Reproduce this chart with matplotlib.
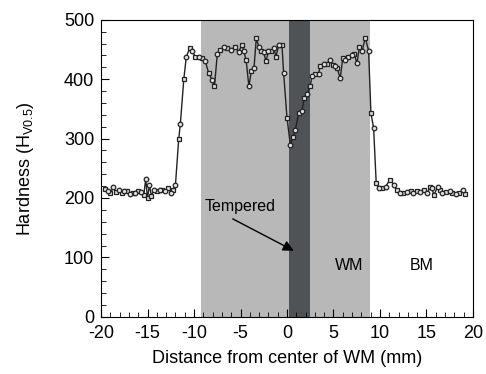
import matplotlib
matplotlib.use('Agg')
import matplotlib.pyplot as plt
from matplotlib.ticker import MultipleLocator

plt.rcParams['font.family'] = ['Liberation Sans', 'DejaVu Sans']
plt.rcParams['axes.unicode_minus'] = False
plt.rcParams['mathtext.fontset'] = 'custom'
plt.rcParams['mathtext.rm'] = 'Liberation Sans'

# hardness profile across the weld (mm, HV0.5)
distance = [-19.6, -19.3, -19.0, -18.7, -18.4, -18.1, -17.8, -17.5, -17.2, -16.9,
            -16.6, -16.3, -16.0, -15.7, -15.4, -15.2, -15.0, -14.8, -14.6, -14.3,
            -14.0, -13.7, -13.4, -13.1, -12.8, -12.5, -12.3, -12.0,
            -11.65, -11.47, -11.1, -10.83, -10.46, -10.2, -9.86, -9.5, -9.14, -8.78,
            -8.42, -8.06, -7.8, -7.5, -7.17, -6.8, -6.45, -6.0, -5.6, -5.2, -4.84,
            -4.66, -4.4, -4.1, -3.84, -3.55, -3.3, -3.04, -2.76, -2.5, -2.26, -2.0,
            -1.7, -1.43, -1.18, -0.9, -0.54, -0.36, 0.0, 0.36, 0.65, 0.9, 1.26, 1.6,
            1.86, 2.15, 2.5, 2.69, 3.05, 3.4, 3.58, 3.95, 4.3, 4.66, 4.95, 5.2, 5.38,
            5.73, 6.0, 6.27, 6.6, 6.99, 7.24, 7.53, 7.8, 8.1, 8.42, 8.78, 9.03, 9.32,
            9.6, 9.86, 10.2, 10.6, 11.1, 11.5, 11.8, 12.2, 12.5, 12.9, 13.3, 13.6,
            14.0, 14.3, 14.7, 15.1, 15.4, 15.6, 15.8, 16.2, 16.5, 16.7, 17.1, 17.5,
            17.8, 18.2, 18.5, 18.9, 19.2]
hardness = [215, 212, 208, 218, 210, 213, 209, 212, 211, 207,
            209, 208, 212, 210, 205, 232, 200, 222, 204, 214,
            212, 213, 213, 211, 216, 209, 213, 222,
            299, 325, 400, 438, 452, 447, 438, 437, 436, 430,
            410, 399, 388, 442, 450, 454, 452, 450, 454, 446, 458,
            447, 433, 388, 413, 419, 469, 455, 447, 445, 430, 447,
            447, 452, 438, 457, 458, 410, 335, 290, 302, 315, 343, 346,
            368, 375, 388, 406, 408, 409, 423, 426, 426, 433, 424, 422, 419,
            402, 435, 433, 438, 440, 442, 427, 455, 448, 470, 448, 343, 318,
            225, 216, 217, 219, 231, 222, 214, 208, 209, 210, 212, 208,
            211, 210, 213, 208, 219, 216, 205, 218, 213, 208, 210, 212,
            208, 207, 208, 213, 207]

wm_zone = (-9.2, 8.9)
tempered_zone = (0.2, 2.5)

fig, ax = plt.subplots(figsize=(4.86, 3.74), dpi=100)
fig.subplots_adjust(left=0.208, right=0.973, bottom=0.153, top=0.947)

ax.axvspan(*wm_zone, ymax=0.995, color='#b8b8b8', lw=0, zorder=0)
ax.axvspan(*tempered_zone, ymax=0.995, color='#505355', lw=0, zorder=1)

ax.plot(distance, hardness, color='#222222', lw=1, zorder=3)
ax.plot(distance[::2], hardness[::2], ls='none', marker='s', ms=3.3,
        mfc='#dddddd', mec='#222222', mew=0.9, zorder=4)
ax.plot(distance[1::2], hardness[1::2], ls='none', marker='o', ms=3.3,
        mfc='#dddddd', mec='#222222', mew=0.9, zorder=4)

ax.text(-8.9, 185, 'Tempered', fontsize=11.5, va='center', ha='left')
ax.annotate('', xy=(1.0, 109), xytext=(-6.1, 167),
            arrowprops=dict(arrowstyle='-|>', color='black', lw=1, mutation_scale=16))
ax.text(6.7, 87, 'WM', fontsize=11.5, ha='center', va='center')
ax.text(14.5, 87, 'BM', fontsize=11.5, ha='center', va='center')

ax.set_xlim(-20, 20)
ax.set_ylim(0, 500)
ax.xaxis.set_major_locator(MultipleLocator(5))
ax.xaxis.set_minor_locator(MultipleLocator(1))
ax.yaxis.set_major_locator(MultipleLocator(100))
ax.yaxis.set_minor_locator(MultipleLocator(20))
ax.tick_params(which='both', direction='in', top=False, right=False, labelsize=13)
ax.tick_params(which='major', length=6)
ax.tick_params(which='minor', length=3.5)
ax.tick_params(axis='x', pad=6)
ax.tick_params(axis='y', pad=5)

ax.set_xlabel('Distance from center of WM (mm)', fontsize=13, labelpad=6)
ax.set_ylabel('Hardness (H$_{\\mathrm{V0.5}}$)', fontsize=13, labelpad=20)

fig.savefig('out.png', dpi=100)
